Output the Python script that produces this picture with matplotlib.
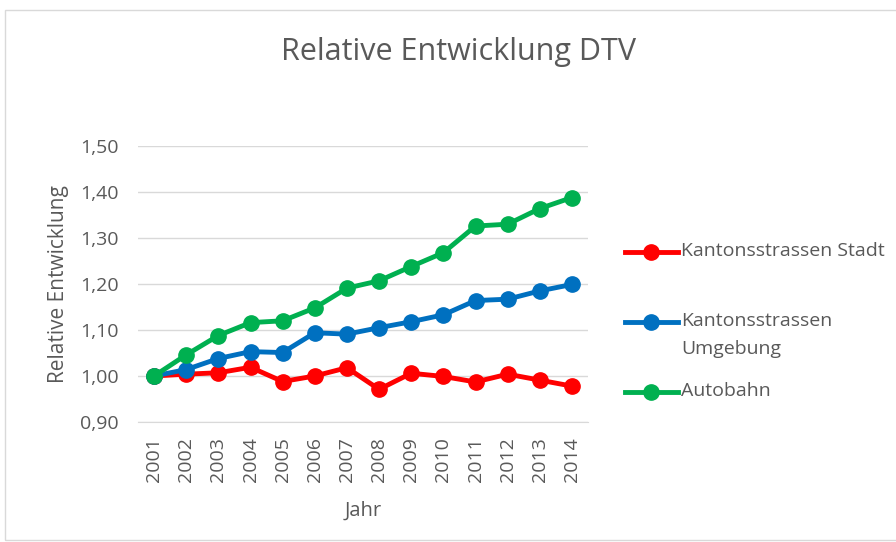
import matplotlib.pyplot as plt
from matplotlib.patches import Rectangle
from matplotlib.lines import Line2D
from matplotlib.ticker import FuncFormatter

plt.rcParams['font.family'] = ['Open Sans', 'DejaVu Sans']

years = ['2001', '2002', '2003', '2004', '2005', '2006', '2007',
         '2008', '2009', '2010', '2011', '2012', '2013', '2014']
stadt = [1.000, 1.004, 1.007, 1.019, 0.988, 1.000, 1.018,
         0.971, 1.006, 0.999, 0.987, 1.004, 0.991, 0.978]
umgebung = [1.000, 1.014, 1.038, 1.053, 1.051, 1.094, 1.091,
            1.105, 1.118, 1.133, 1.164, 1.167, 1.185, 1.199]
autobahn = [1.000, 1.046, 1.088, 1.116, 1.120, 1.148, 1.191,
            1.207, 1.238, 1.268, 1.326, 1.330, 1.364, 1.388]
names = ['Kantonsstrassen Stadt', 'Kantonsstrassen\nUmgebung', 'Autobahn']
colors = ['#ff0000', '#0070c0', '#00b050']

text_col = '#595959'
W, H = 896, 542

fig = plt.figure(figsize=(8.96, 5.42), dpi=100)
ax = fig.add_axes([138 / W, 1 - 422 / H, 450 / W, 276 / H])

x = range(len(years))
for vals, c, n in zip([stadt, umgebung, autobahn], colors, names):
    ax.plot(x, vals, color=c, lw=3.5, marker='o', ms=11, label=n)

ax.set_xlim(-0.5, len(years) - 0.5)
ax.set_ylim(0.9, 1.5)
ax.set_yticks([0.9, 1.0, 1.1, 1.2, 1.3, 1.4, 1.5])
ax.yaxis.set_major_formatter(FuncFormatter(lambda v, p: f'{v:.2f}'.replace('.', ',')))
ax.set_xticks(list(x))
ax.set_xticklabels(years, rotation=90)
ax.grid(axis='y', color='#d9d9d9', lw=1)
ax.set_axisbelow(True)
for s in ['top', 'right', 'left']:
    ax.spines[s].set_visible(False)
ax.spines['bottom'].set_color('#d9d9d9')
ax.tick_params(axis='both', length=0, labelsize=14, colors=text_col)
ax.tick_params(axis='x', pad=11)
ax.tick_params(axis='y', pad=14)

ax.set_ylabel('Relative Entwicklung', fontsize=15, color=text_col, labelpad=8)
ax.set_xlabel('Jahr', fontsize=14.5, color=text_col, labelpad=13)
fig.text(458 / W, 1 - 52 / H, 'Relative Entwicklung DTV', ha='center', va='center',
         fontsize=22, color=text_col)

# legend drawn by hand so the marker sits on the first text line
leg_y = [252, 322, 392]
for yy, c, n in zip(leg_y, colors, names):
    fig.add_artist(Line2D([625 / W, 678 / W], [1 - yy / H] * 2, color=c, lw=3.5,
                          transform=fig.transFigure))
    fig.add_artist(Line2D([651 / W], [1 - yy / H], color=c, marker='o', ms=11,
                          transform=fig.transFigure))
    fig.text(681 / W, 1 - (yy - 10) / H, n, ha='left', va='top', fontsize=14,
             color=text_col, linespacing=1.75)

fig.patches.append(Rectangle((5 / W, 0.003), 1.0, 1 - 10 / H - 0.003,
                             transform=fig.transFigure, fill=False,
                             edgecolor='#d9d9d9', lw=1))

fig.savefig('out.png', dpi=100)
